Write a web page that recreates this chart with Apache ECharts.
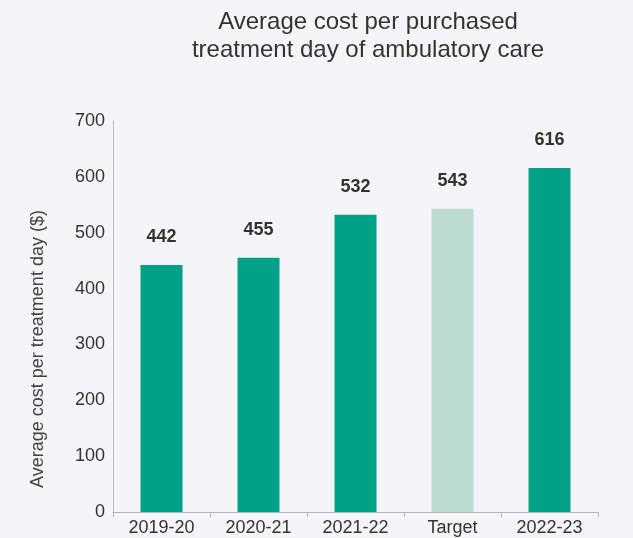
<!DOCTYPE html>
<html>
<head>
<meta charset="utf-8">
<script src="https://cdn.jsdelivr.net/npm/echarts@6/dist/echarts.min.js"></script>
<style>
  html, body { margin: 0; padding: 0; background: #f5f4f7; }
  #chart { width: 633px; height: 538px; }
</style>
</head>
<body>
<div id="chart"></div>
<script>
// Average cost per purchased treatment day of ambulatory care
const categories = ['2019-20', '2020-21', '2021-22', 'Target', '2022-23'];
const costs = [442, 455, 532, 543, 616];
const targetCategory = 'Target';
const yTicks = [0, 100, 200, 300, 400, 500, 600, 700];
const yAxisTitle = 'Average cost per treatment day ($)';

const barData = categories.map((c, i) => ({
  value: costs[i],
  itemStyle: { color: c === targetCategory ? '#bcdcd2' : '#00a187' }
}));

const chart = echarts.init(document.getElementById('chart'));
chart.setOption({
  backgroundColor: '#f5f4f7',
  textStyle: { fontFamily: 'Liberation Sans, Arial, sans-serif' },
  title: {
    text: 'Average cost per purchased\ntreatment day of ambulatory care',
    left: 363,
    top: 3,
    textAlign: 'center',
    textStyle: { fontSize: 24, fontWeight: 'normal', color: '#333', lineHeight: 28 }
  },
  // rotated y-axis title, sitting a little below the plot's vertical centre
  graphic: [{
    type: 'text',
    x: 38,
    y: 349,
    rotation: Math.PI / 2,
    style: {
      text: yAxisTitle,
      fontSize: 18,
      fill: '#444',
      fontFamily: 'Liberation Sans, Arial, sans-serif',
      align: 'center',
      verticalAlign: 'middle'
    }
  }],
  grid: { left: 113, right: 35, top: 121, bottom: 26 },
  xAxis: {
    type: 'category',
    data: categories,
    axisLine: { lineStyle: { color: '#b5b5b5' } },
    axisTick: { show: true, length: 5, lineStyle: { color: '#b5b5b5' } },
    axisLabel: { fontSize: 18, color: '#333', margin: 7 }
  },
  yAxis: {
    type: 'value',
    min: yTicks[0],
    max: yTicks[yTicks.length - 1],
    interval: yTicks[1] - yTicks[0],
    axisLine: { show: true, lineStyle: { color: '#b5b5b5' } },
    axisTick: { show: false },
    splitLine: { show: false },
    axisLabel: { fontSize: 18, color: '#333', margin: 8 }
  },
  series: [{
    type: 'bar',
    data: barData,
    barWidth: 42,
    label: {
      show: true,
      position: 'top',
      distance: 19,
      fontSize: 18,
      fontWeight: 'bold',
      color: '#333'
    }
  }],
  animation: false
});
</script>
</body>
</html>
